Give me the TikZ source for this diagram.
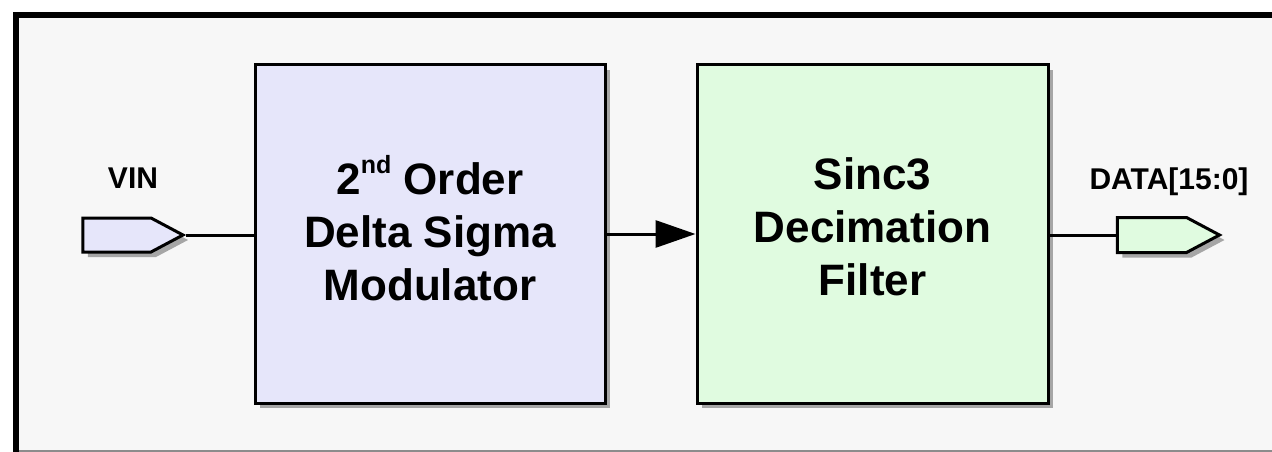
\documentclass[tikz,border=0pt]{standalone}
\usepackage{fontspec}
\setmainfont{Liberation Sans}
\usetikzlibrary{arrows.meta,shadows,shapes.symbols}
\definecolor{framebg}{HTML}{F7F7F7}
\definecolor{modfill}{HTML}{E6E6FA}
\definecolor{filtfill}{HTML}{E0FBE0}
\definecolor{shadowgray}{HTML}{A6A6A6}
\newcommand{\ordsup}[1]{\raisebox{21pt}{\fontsize{25}{25}\selectfont #1}}
\begin{document}
\begin{tikzpicture}[x=1pt,y=-1pt,
  softshadow/.style={drop shadow={shadow xshift=5pt,shadow yshift=-5pt,fill=shadowgray,opacity=1}},
  block/.style={draw=black,line width=3pt,softshadow,align=center,inner sep=0pt,
    font=\fontsize{44}{53}\selectfont\bfseries},
  pin/.style={shape=signal,signal to=east,signal pointer angle=56,draw=black,line width=3pt,
    softshadow,minimum width=100pt,minimum height=34pt,inner sep=0pt},
  pinlabel/.style={anchor=base,inner sep=0pt,font=\fontsize{30}{36}\selectfont\bfseries},
  wire/.style={draw=black,line width=3pt},
]
\useasboundingbox (0,0) rectangle (1272,452);

% outer panel
\fill[framebg] (16,15) rectangle (1285,452);
\draw[black!45,line width=2pt] (16,450.5) -- (1285,450.5);
\draw[black,line width=6pt] (16,455) -- (16,15) -- (1285,15);

% processing blocks
\node[block,fill=modfill,minimum width=350pt,minimum height=338pt] (mod) at (430,234)
  {2\ordsup{nd} Order\\Delta Sigma\\Modulator\\[-40pt]};
\node[block,fill=filtfill,minimum width=351pt,minimum height=338pt] (filt) at (872.5,234)
  {Sinc3\\Decimation\\Filter\\[-38pt]};

% port symbols
\node[pin,fill=modfill] (vin) at (117,235) {};
\node[pin,fill=filtfill,minimum width=102pt,minimum height=35pt] (data) at (1152,235) {};
\node[pinlabel] (vinlbl) at (133,188) {VIN};
\node[pinlabel] (datalbl) at (1169,189) {DATA[15:0]};

% connections
\draw[wire] (vin.east) -- (vin.east -| mod.west);
\draw[wire,-{Triangle[length=40pt,width=27pt]}] (mod.east) -- (filt.west);
\draw[wire] (filt.east |- data.west) -- (data.west);
\end{tikzpicture}
\end{document}
